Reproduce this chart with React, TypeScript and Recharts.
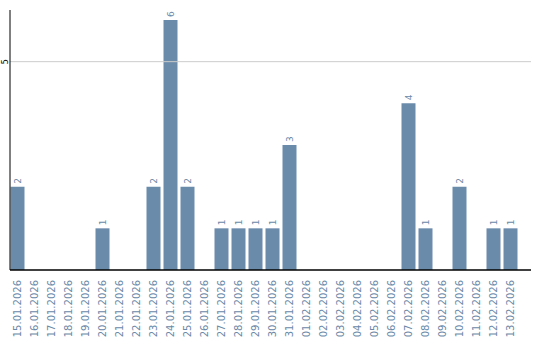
import React from "react";
import { BarChart, Bar, XAxis, YAxis, ReferenceLine, LabelList, Rectangle } from "recharts";

const dates = [
  "15.01.2026", "16.01.2026", "17.01.2026", "18.01.2026", "19.01.2026",
  "20.01.2026", "21.01.2026", "22.01.2026", "23.01.2026", "24.01.2026",
  "25.01.2026", "26.01.2026", "27.01.2026", "28.01.2026", "29.01.2026",
  "30.01.2026", "31.01.2026", "01.02.2026", "02.02.2026", "03.02.2026",
  "04.02.2026", "05.02.2026", "06.02.2026", "07.02.2026", "08.02.2026",
  "09.02.2026", "10.02.2026", "11.02.2026", "12.02.2026", "13.02.2026",
];
const counts = [2, 0, 0, 0, 0, 1, 0, 0, 2, 6, 2, 0, 1, 1, 1, 1, 3, 0, 0, 0, 0, 0, 0, 4, 1, 0, 2, 0, 1, 1];
const yTicks = [5];

const data = dates.map((d, i) => ({ date: d, value: counts[i] }));

const BAR = "#6b8bab";
const TEXT = "#6a89a8";
const FONT = "DejaVu Sans, sans-serif";

const XTick = (props: any) => {
  const { x, y, payload } = props;
  return (
    <text
      x={0}
      y={0}
      transform={`translate(${x - 1.5 + 3.5},${y + 2}) rotate(-90)`}
      textAnchor="end"
      fontFamily={FONT}
      fontSize={10}
      fill={TEXT}
    >
      {payload.value}
    </text>
  );
};

const YTick = (props: any) => {
  const { y, payload } = props;
  return (
    <text
      x={0}
      y={0}
      transform={`translate(7.5,${y}) rotate(-90)`}
      textAnchor="middle"
      fontFamily={FONT}
      fontSize={8}
      fill="#000"
    >
      {payload.value}
    </text>
  );
};

const BarShape = (props: any) => {
  const { x, y, width, height } = props;
  if (!height) return null;
  return <Rectangle x={x - 1.5} y={y} width={width} height={height} fill={BAR} />;
};

const BarLabel = (props: any) => {
  const { x, y, width, value } = props;
  if (!value) return null;
  const cx = x - 1.5 + width / 2 + 3;
  return (
    <text
      x={0}
      y={0}
      transform={`translate(${cx},${y - 3}) rotate(-90)`}
      textAnchor="start"
      fontFamily={FONT}
      fontSize={9}
      fill={TEXT}
    >
      {value}
    </text>
  );
};

export default function App() {
  return (
    <div style={{ position: "absolute", left: 0, top: 0, width: 540, height: 340, background: "#fff" }}>
      <BarChart
        width={540}
        height={340}
        data={data}
        margin={{ top: 10, right: 9, bottom: 0, left: 0 }}
        barCategoryGap={3}
      >
        <XAxis
          dataKey="date"
          interval={0}
          height={70}
          tickLine={false}
          axisLine={{ stroke: "#000", strokeWidth: 1.5 }}
          tick={<XTick />}
          padding={{ left: 0, right: 11 }}
        />
        <YAxis
          width={10}
          domain={[0, 6.24]}
          ticks={yTicks}
          tickLine={false}
          axisLine={{ stroke: "#000", strokeWidth: 1 }}
          tick={<YTick />}
          allowDataOverflow
        />
        <ReferenceLine y={5} stroke="#cccccc" />
        <Bar dataKey="value" barSize={14} shape={<BarShape />} isAnimationActive={false}>
          <LabelList dataKey="value" content={<BarLabel />} />
        </Bar>
      </BarChart>
    </div>
  );
}
